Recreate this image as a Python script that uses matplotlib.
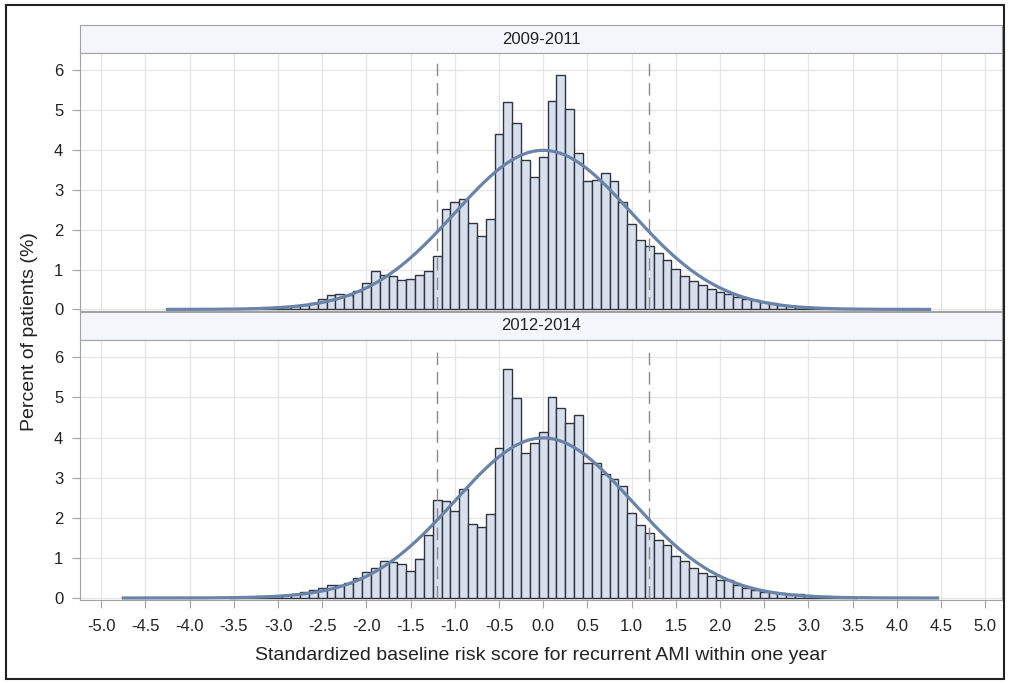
import numpy as np
import matplotlib
matplotlib.use('Agg')
import matplotlib.pyplot as plt
from matplotlib.patches import Rectangle

plt.rcParams['font.family'] = ['Liberation Sans', 'DejaVu Sans']

# histogram data, percent of patients per 0.1-wide bin (bin centers -3.5 .. 3.5)
bin_lo, bin_hi = -3.5, 3.5
pct_2009 = [0.01, 0.02, 0.02, 0.03, 0.04, 0.05, 0.06, 0.08, 0.11, 0.17,
            0.27, 0.37, 0.38, 0.35, 0.46, 0.67, 0.96, 0.87, 0.83, 0.73,
            0.75, 0.87, 0.96, 1.33, 2.52, 2.69, 2.77, 2.17, 1.85, 2.27,
            4.39, 5.19, 4.67, 3.75, 3.31,
            3.81,
            5.23, 5.87, 5.03, 3.93, 3.23, 3.25, 3.42, 3.23, 2.69, 2.13,
            1.73, 1.60, 1.42, 1.23, 1.02, 0.85, 0.71, 0.60, 0.52, 0.44,
            0.39, 0.32, 0.26, 0.23, 0.19, 0.15, 0.12, 0.09, 0.07, 0.05,
            0.04, 0.03, 0.02, 0.02, 0.01]
pct_2012 = [0.02, 0.02, 0.03, 0.04, 0.05, 0.06, 0.08, 0.11, 0.14, 0.20,
            0.26, 0.33, 0.33, 0.37, 0.49, 0.66, 0.76, 0.92, 0.90, 0.85,
            0.68, 0.96, 1.57, 2.44, 2.42, 2.16, 2.71, 1.84, 1.76, 2.09,
            3.74, 5.70, 4.98, 3.61, 3.86,
            4.14,
            5.02, 4.74, 4.37, 4.55, 3.37, 3.37, 3.08, 2.96, 2.79, 2.12,
            1.82, 1.63, 1.44, 1.32, 1.04, 0.92, 0.76, 0.63, 0.55, 0.45,
            0.44, 0.33, 0.26, 0.20, 0.16, 0.15, 0.12, 0.10, 0.09, 0.08,
            0.05, 0.04, 0.03, 0.02, 0.01]
panels = ['2009-2011', '2012-2014']
# range the fitted normal curve is drawn over (min/max of the scores)
curve_range = [(-4.25, 4.37), (-4.75, 4.46)]
cutoffs = [-1.2, 1.2]
bin_w = 0.1

xticks = np.arange(-5.0, 5.01, 0.5)

W, H = 1009, 683
fig = plt.figure(figsize=(W / 100, H / 100), dpi=100)

def box(l, t, r, b):
    # pixel box -> figure fraction
    return [l / W, 1 - b / H, (r - l) / W, (b - t) / H]

bar_fc = '#d8e0ee'
bar_ec = '#30343e'
line_c = '#6a83a8'
frame_c = '#a3a3a3'
grid_c = '#e6e6e6'
txt_c = '#222222'

centers = np.round(np.arange(bin_lo, bin_hi + bin_w / 2, bin_w), 1)

layout = [(25, 53, 311), (312, 340, 600)]
for i, (name, pct) in enumerate(zip(panels, [pct_2009, pct_2012])):
    h_top, p_top, p_bot = layout[i]

    # header strip with the period label
    hax = fig.add_axes(box(80, h_top, 1002, p_top))
    hax.set_facecolor('#f4f6fb')
    hax.set_xticks([]); hax.set_yticks([])
    for s in hax.spines.values():
        s.set_color(frame_c)
    hax.text(0.5, 0.5, name, ha='center', va='center', fontsize=12, color=txt_c)

    ax = fig.add_axes(box(80, p_top, 1002, p_bot))
    ax.set_axisbelow(True)
    ax.bar(centers, pct, width=bin_w, color=bar_fc, edgecolor=bar_ec, linewidth=1.0, zorder=2)

    # normal density scaled to percent per bin
    lo, hi = curve_range[i]
    xs = np.linspace(lo, hi, 400)
    ys = 100 * bin_w * np.exp(-xs ** 2 / 2) / np.sqrt(2 * np.pi)
    ax.plot(xs, ys, color=line_c, lw=2.3, zorder=4)

    ax.vlines(cutoffs, 0, 6.2, colors='#8a8a8a', linestyles=(0, (9, 5)), lw=1.0, zorder=3)

    ax.set_xlim(-5.24, 5.19)
    ax.set_ylim(-0.04 if i == 0 else -0.05, 6.43)
    ax.set_yticks(range(0, 7))
    ax.set_xticks(xticks)
    ax.grid(True, color=grid_c, lw=1.0)
    for s in ax.spines.values():
        s.set_color(frame_c)
    ax.tick_params(axis='y', length=6, pad=6, color=frame_c, labelsize=12, labelcolor=txt_c)
    if i == 0:
        ax.tick_params(axis='x', length=0, labelbottom=False)
    else:
        ax.set_xticklabels(['%.1f' % t for t in xticks])
        ax.tick_params(axis='x', length=6, pad=8, color=frame_c, labelsize=12, labelcolor=txt_c)
        ax.set_xlabel('Standardized baseline risk score for recurrent AMI within one year',
                      fontsize=14, color=txt_c, labelpad=9)

fig.text(30 / W, 1 - 332 / H, 'Percent of patients (%)', rotation=90,
         ha='center', va='center', fontsize=14, color=txt_c)

# outer frame around the whole graphic
fig.patches.append(Rectangle((6 / W, 4 / H), 998 / W, 674 / H, transform=fig.transFigure,
                             fill=False, edgecolor=txt_c, lw=1.5))

fig.savefig('out.png', dpi=100)
